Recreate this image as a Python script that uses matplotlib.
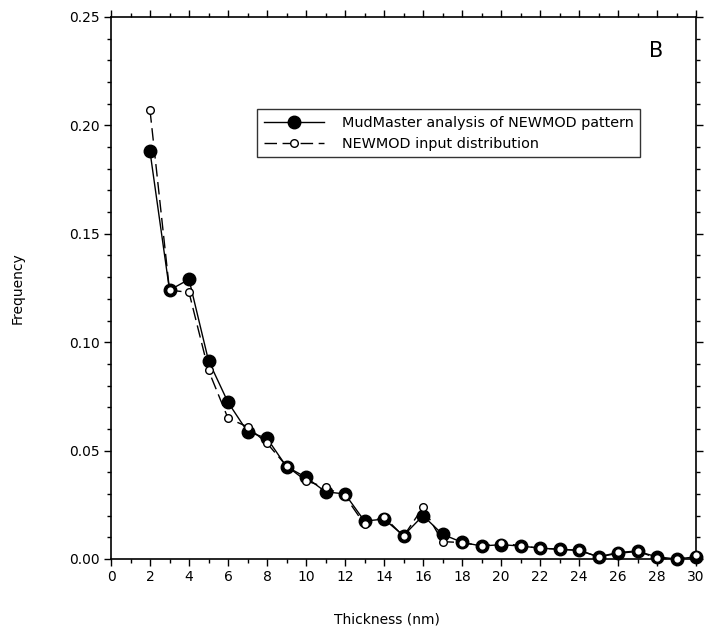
import matplotlib
matplotlib.use('Agg')
import matplotlib.pyplot as plt
from matplotlib.ticker import MultipleLocator, FormatStrFormatter

plt.rcParams['font.family'] = ['DejaVu Sans']
plt.rcParams['font.size'] = 10

# thickness (nm)
thickness = [2, 3, 4, 5, 6, 7, 8, 9, 10, 11, 12, 13, 14, 15, 16,
             17, 18, 19, 20, 21, 22, 23, 24, 25, 26, 27, 28, 29, 30]
# MudMaster analysis of NEWMOD pattern
mudmaster = [0.188, 0.124, 0.129, 0.0915, 0.0723, 0.0587, 0.0557, 0.0426,
             0.0377, 0.031, 0.030, 0.0175, 0.0184, 0.0108, 0.020,
             0.0114, 0.0077, 0.006, 0.0066, 0.006, 0.005, 0.0045, 0.004,
             0.001, 0.0026, 0.0035, 0.001, 0.0, 0.001]
# NEWMOD input distribution
newmod = [0.207, 0.124, 0.123, 0.087, 0.0649, 0.061, 0.0534, 0.0429,
          0.0361, 0.033, 0.029, 0.016, 0.0195, 0.0105, 0.0238,
          0.008, 0.0076, 0.006, 0.0076, 0.006, 0.005, 0.0045, 0.004,
          0.001, 0.003, 0.0037, 0.0003, 0.0, 0.0018]

fig = plt.figure(figsize=(7.12, 6.3), dpi=100)
ax = fig.add_axes([111/712, 1-559/630, 585/712, 542/630])

ax.plot(thickness, mudmaster, '-', color='black', lw=1.0,
        marker='o', ms=9, mfc='black', mec='black',
        label='MudMaster analysis of NEWMOD pattern', zorder=3, clip_on=False)
ax.plot(thickness, newmod, color='black', lw=1.0, dashes=(9, 4),
        marker='o', ms=5.5, mfc='white', mec='black', mew=1.0,
        label='NEWMOD input distribution', zorder=4, clip_on=False)

ax.set_xlim(0, 30)
ax.set_ylim(0, 0.25)
ax.xaxis.set_major_locator(MultipleLocator(2))
ax.xaxis.set_minor_locator(MultipleLocator(1))
ax.yaxis.set_major_locator(MultipleLocator(0.05))
ax.yaxis.set_minor_locator(MultipleLocator(0.01))
ax.yaxis.set_major_formatter(FormatStrFormatter('%.2f'))
ax.tick_params(which='both', direction='out', top=True, right=True, width=1)
ax.tick_params(which='major', length=5, pad=3)
ax.tick_params(which='minor', length=3)
for s in ax.spines.values():
    s.set_linewidth(1.2)

ax.set_xlabel('Thickness (nm)')
ax.set_ylabel('Frequency')
ax.xaxis.set_label_coords(0.472, -0.098)
ax.yaxis.set_label_coords(-0.148, 0.5)

ax.text(0.931, 0.937, 'B', transform=ax.transAxes, fontsize=15,
        ha='center', va='center')

leg = ax.legend(loc='upper left', bbox_to_anchor=(0.2496, 0.830),
                borderaxespad=0, frameon=True, fancybox=False,
                prop={'size': 10.4},
                handlelength=4.2, handletextpad=1.2, labelspacing=0.5,
                borderpad=0.45)
leg.get_frame().set_edgecolor('black')
leg.get_frame().set_linewidth(1.0)

fig.savefig('out.png', dpi=100)
